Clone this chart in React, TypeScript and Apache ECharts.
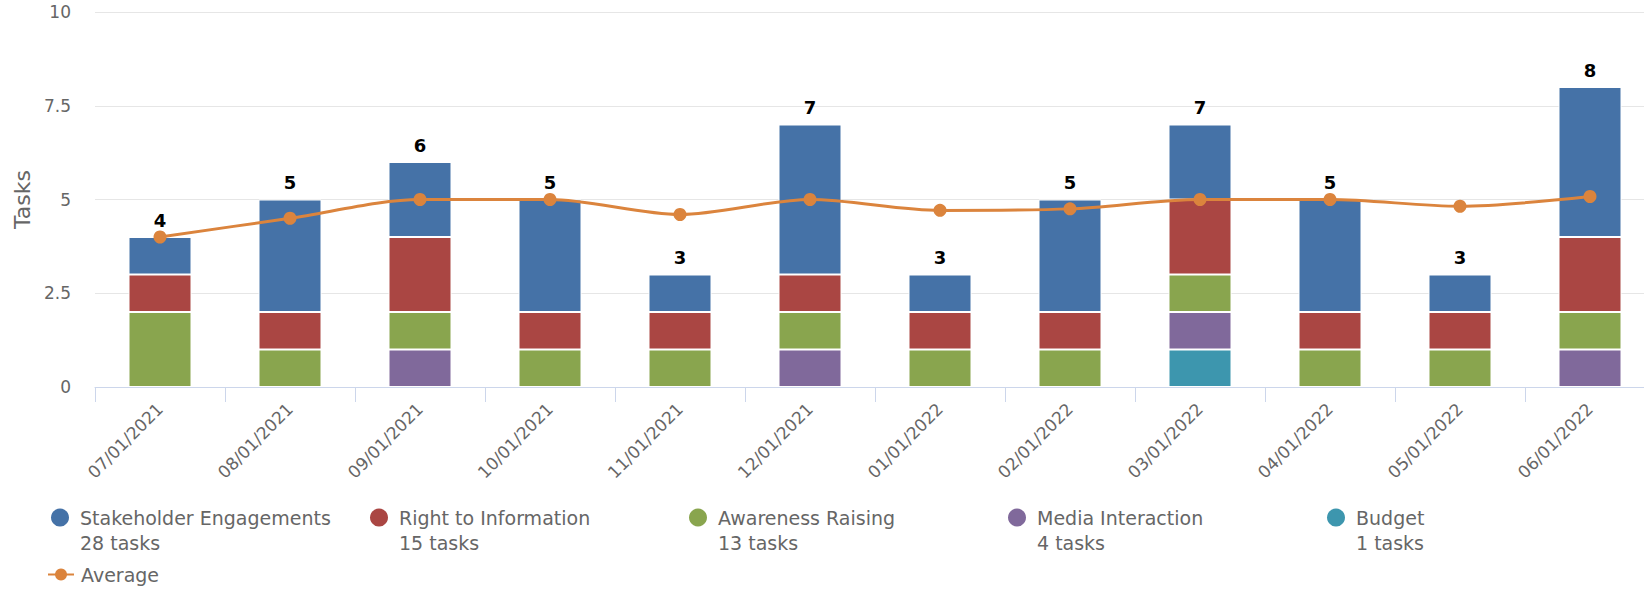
import React, { useEffect, useRef } from "react";
import * as echarts from "echarts";

const months = [
  "07/01/2021", "08/01/2021", "09/01/2021", "10/01/2021", "11/01/2021", "12/01/2021",
  "01/01/2022", "02/01/2022", "03/01/2022", "04/01/2022", "05/01/2022", "06/01/2022",
];
const stakeholder = [1, 3, 2, 3, 1, 4, 1, 3, 2, 3, 1, 4];
const rightToInfo = [1, 1, 2, 1, 1, 1, 1, 1, 2, 1, 1, 2];
const awareness = [2, 1, 1, 1, 1, 1, 1, 1, 1, 1, 1, 1];
const media = [0, 0, 1, 0, 0, 1, 0, 0, 1, 0, 0, 1];
const budget = [0, 0, 0, 0, 0, 0, 0, 0, 1, 0, 0, 0];
const average = [4, 4.5, 5, 5, 4.6, 5, 4.71, 4.75, 5, 5, 4.82, 5.08];
const yTicks = [0, 2.5, 5, 7.5, 10];

const names = ["Stakeholder Engagements", "Right to Information", "Awareness Raising", "Media Interaction", "Budget"];
const taskCounts: Record<string, number> = {
  "Stakeholder Engagements": 28,
  "Right to Information": 15,
  "Awareness Raising": 13,
  "Media Interaction": 4,
  "Budget": 1,
};
const colors: Record<string, string> = {
  "Stakeholder Engagements": "#4572A7",
  "Right to Information": "#AA4643",
  "Awareness Raising": "#89A54E",
  "Media Interaction": "#80699B",
  "Budget": "#3D96AE",
};
const avgColor = "#DB843D";

const FONT = "DejaVu Sans";

export default function App() {
  const ref = useRef<HTMLDivElement>(null);
  useEffect(() => {
    if (!ref.current) return;
    const chart = echarts.init(ref.current, undefined, { renderer: "svg" });
    const totals = months.map((_, i) => stakeholder[i] + rightToInfo[i] + awareness[i] + media[i] + budget[i]);
    const stackData: [string, number[]][] = [
      ["Budget", budget],
      ["Media Interaction", media],
      ["Awareness Raising", awareness],
      ["Right to Information", rightToInfo],
      ["Stakeholder Engagements", stakeholder],
    ];
    const barSeries = stackData.map(([name, data]) => ({
      name,
      type: "bar",
      stack: "total",
      barWidth: 63,
      data: data.map((v) => (v === 0 ? null : v)),
      itemStyle: { color: colors[name], borderColor: "#ffffff", borderWidth: 1 },
      label:
        name === "Stakeholder Engagements"
          ? {
              show: true,
              position: "top",
              distance: 8,
              fontFamily: FONT,
              fontWeight: "bold",
              fontSize: 18,
              color: "#000",
              formatter: (p: any) => String(totals[p.dataIndex]),
            }
          : { show: false },
    }));
    chart.setOption({
      animation: false,
      textStyle: { fontFamily: FONT },
      grid: { left: 95, top: 12, width: 1560, height: 375, outerBoundsMode: "none", containLabel: false },
      legend: [
        {
          data: names,
          left: 51,
          top: 480,
          padding: 0,
          orient: "horizontal",
          icon: "circle",
          itemWidth: 18,
          itemHeight: 18,
          itemGap: 20,
          itemStyle: { borderWidth: 0 },
          textStyle: {
            fontFamily: FONT,
            fontSize: 19,
            color: "#666",
            lineHeight: 25,
            width: 270,
            padding: [0, 0, 0, 6],
          },
          formatter: (name: string) => `\n${name}\n${taskCounts[name]} tasks`,
        },
        {
          data: ["Average"],
          left: 47,
          top: 562,
          padding: 0,
          itemWidth: 26,
          itemHeight: 15,
          textStyle: { fontFamily: FONT, fontSize: 19, color: "#666", lineHeight: 25, padding: [0, 0, 0, 2] },
        },
      ],
      xAxis: {
        type: "category",
        data: months,
        axisLine: { lineStyle: { color: "#ccd6eb", width: 1 } },
        axisTick: { show: true, length: 15, lineStyle: { color: "#ccd6eb" } },
        axisLabel: { rotate: 45, fontSize: 17, color: "#666", fontFamily: FONT, margin: 19, interval: 0 },
      },
      yAxis: {
        type: "value",
        min: yTicks[0],
        max: yTicks[yTicks.length - 1],
        interval: yTicks[1] - yTicks[0],
        name: "Tasks",
        nameLocation: "middle",
        nameGap: 60,
        nameTextStyle: { fontSize: 22, color: "#666", fontFamily: FONT },
        axisLine: { show: false },
        axisTick: { show: false },
        axisLabel: { fontSize: 17, color: "#666", fontFamily: FONT, margin: 24 },
        splitLine: { lineStyle: { color: "#e6e6e6", width: 1 } },
      },
      series: [
        ...barSeries,
        {
          name: "Average",
          type: "line",
          data: average,
          smooth: 0.3,
          symbol: "circle",
          symbolSize: 13,
          z: 5,
          lineStyle: { color: avgColor, width: 3 },
          itemStyle: { color: avgColor },
        },
      ],
    });
    return () => chart.dispose();
  }, []);
  return (
    <div
      ref={ref}
      style={{ position: "absolute", left: 0, top: 0, width: 1644, height: 589 }}
    />
  );
}
